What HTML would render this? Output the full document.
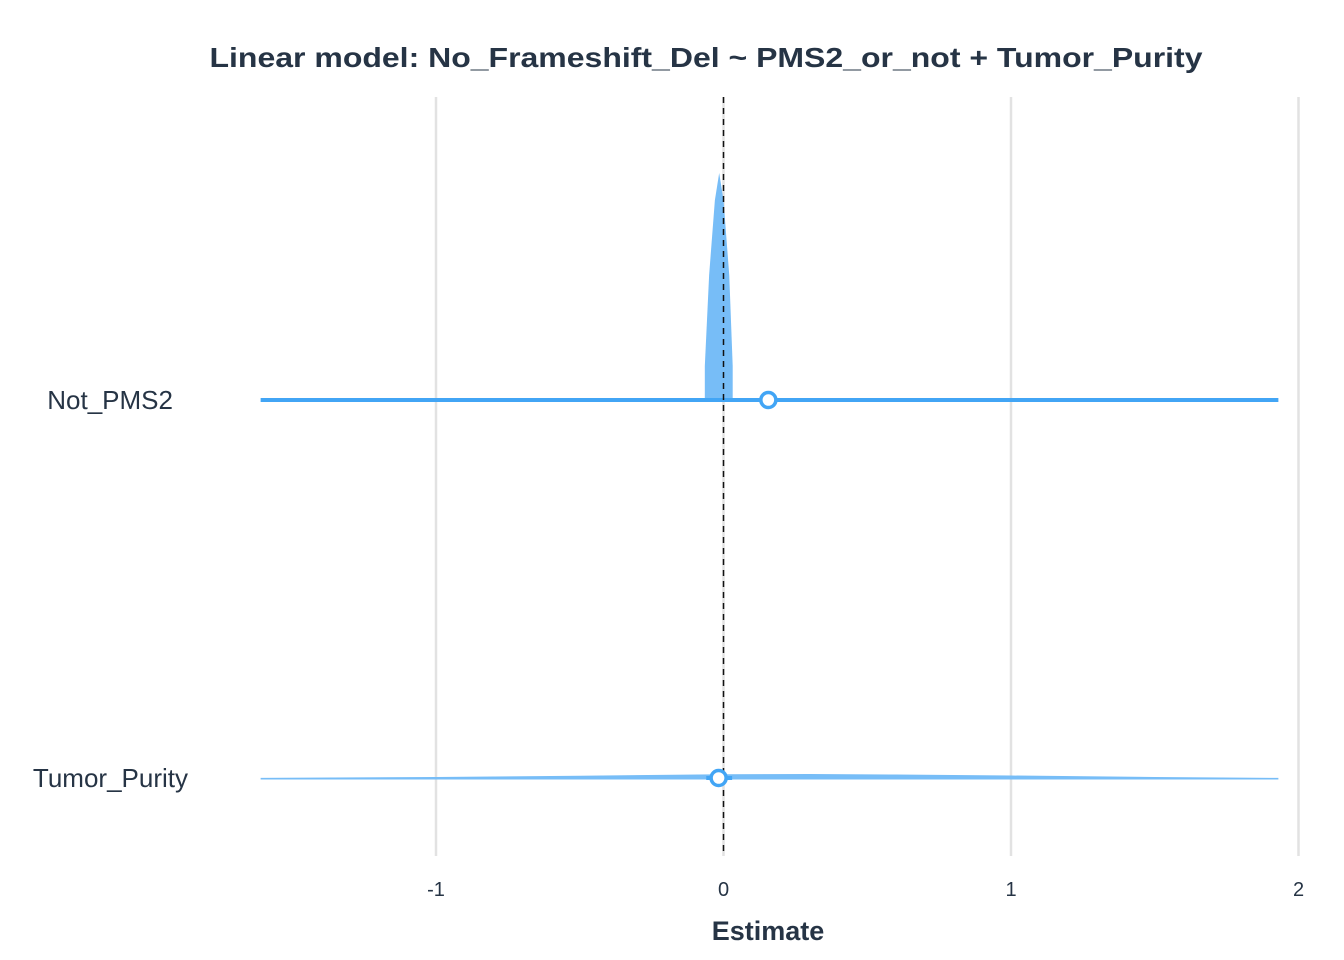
<!DOCTYPE html>
<html><head><meta charset="utf-8"><style>
html,body{margin:0;padding:0;background:#fff;}
svg{display:block;font-family:"Liberation Sans",Arial,sans-serif;}
</style></head><body>
<svg id="chart" width="1344" height="960">
<text x="706" y="67" text-anchor="middle" font-size="28" font-weight="bold" fill="#263445" textLength="993" lengthAdjust="spacingAndGlyphs">Linear model: No_Frameshift_Del ~ PMS2_or_not + Tumor_Purity</text>
<text x="768" y="940" text-anchor="middle" font-size="27" font-weight="bold" fill="#263445">Estimate</text>
<g id="grid"></g><g id="marks"></g><g id="labels"></g>
</svg>
<script>
const terms = ["Not_PMS2","Tumor_Purity"];
const estimates = [0.156, -0.017];
const ciLow = [-1.61, -0.06];
const ciHigh = [1.93, 0.03];
const xTicks = [-1,0,1,2];
const xTickLabels = ["-1","0","1","2"];
// density of Not_PMS2 (x value, relative height)
const dens1X = [-0.065,-0.065,-0.05,-0.03,-0.015,0.0,0.02,0.032,0.032];
const dens1H = [0,0.15,0.55,0.88,1.0,0.88,0.55,0.15,0];
// density of Tumor_Purity (x value, relative thickness)
const dens2X = [-1.61,-1.0,-0.5,0.0,0.3,0.6,1.0,1.5,1.93];
const dens2H = [0.02,0.2,0.45,0.75,0.8,0.7,0.5,0.2,0.02];

const NS="http://www.w3.org/2000/svg";
const xs = v => 723.5 + v*287.5;
const ys = i => [400,778][i];
function mk(tag,attrs,parent){const e=document.createElementNS(NS,tag);for(const k in attrs)e.setAttribute(k,attrs[k]);parent.appendChild(e);return e;}
const gridG=document.getElementById('grid'),marksG=document.getElementById('marks'),labelsG=document.getElementById('labels');
xTicks.forEach((t,i)=>{
  const l=mk('line',{x1:xs(t),x2:xs(t),y1:97,y2:856,stroke:'#e2e2e2','stroke-width':2.5},gridG);
  
  
  const tx=mk('text',{x:xs(t),y:896,'text-anchor':'middle','font-size':20,fill:'#263445'},labelsG);
  tx.textContent=xTickLabels[i];
  
  
});
terms.forEach((t,i)=>{
  const tx=mk('text',{x:i==0?173:188,y:ys(i)+9,'text-anchor':'end','font-size':26,fill:'#263445'},labelsG);
  tx.textContent=t;
  
  
});
const p1=dens1X.map((x,k)=>xs(x)+','+(ys(0)-dens1H[k]*227)).join(' ');
const d1=mk('polygon',{points:p1,fill:'#77bdf7'},marksG);


const upper=dens2X.map((x,k)=>xs(x)+','+(ys(1)-dens2H[k]*5));
const lower=dens2X.slice().reverse().map(x=>xs(x)+','+(ys(1)+1.5));
const d2=mk('polygon',{points:upper.concat(lower).join(' '),fill:'#77bdf7'},marksG);


terms.forEach((t,i)=>{
  const l=mk('line',{x1:xs(ciLow[i]),x2:xs(ciHigh[i]),y1:ys(i),y2:ys(i),stroke:'#42a5f5','stroke-width':4},marksG);
  
  
});
const z=mk('line',{x1:723.5,x2:723.5,y1:97,y2:856,stroke:'#111','stroke-width':1.5,'stroke-dasharray':'6,5'},marksG);


terms.forEach((t,i)=>{
  const c=mk('circle',{cx:xs(estimates[i]),cy:ys(i),r:7.5,fill:'#fff',stroke:'#42a5f5','stroke-width':3.5},marksG);
  
  
});
</script>
</body></html>
